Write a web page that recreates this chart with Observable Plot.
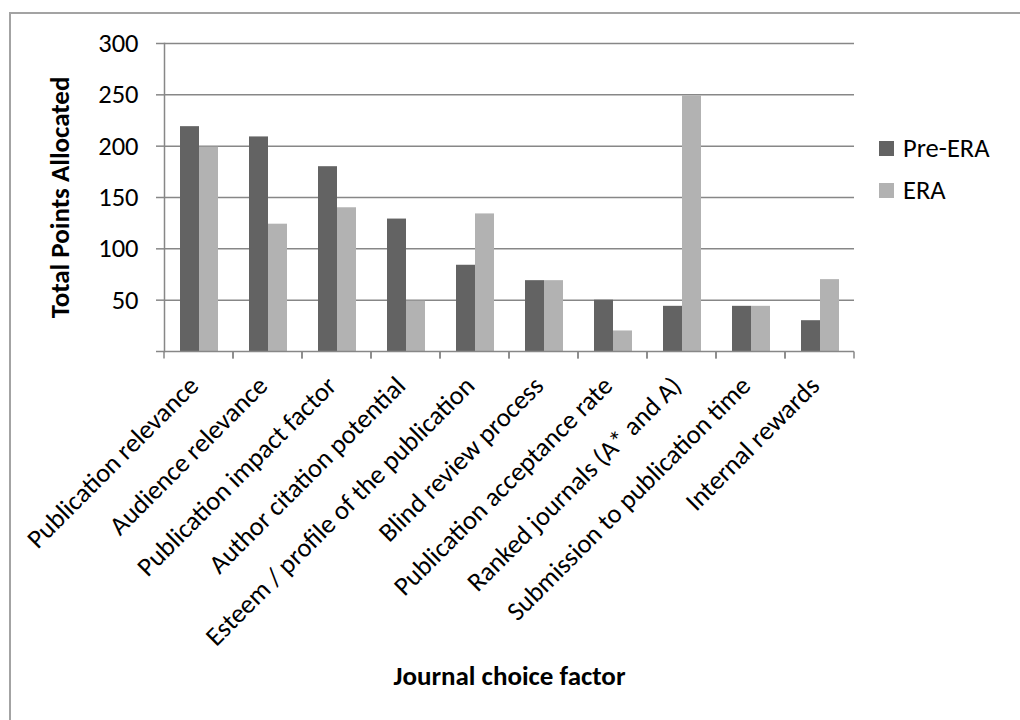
<!DOCTYPE html>
<html>
<head>
<meta charset="utf-8">
<script src="https://cdn.jsdelivr.net/npm/d3@7"></script>
<script src="https://cdn.jsdelivr.net/npm/@observablehq/plot@0.6"></script>
<style>
  html, body { margin: 0; padding: 0; background: #fff; overflow: hidden; }
  #page { position: relative; width: 1020px; height: 720px; font-family: Calibri, Carlito, Lato, sans-serif; }
  #border { position: absolute; left: 9px; top: 12px; width: 1100px; height: 800px; border: 2px solid #a3a3a3; }
  #chart { position: absolute; left: 0; top: 0; }
  #legend { position: absolute; left: 879px; top: 132px; }
  #legend .lg-swatch { margin-bottom: 9px; }
  #legend .lg-swatch svg { margin-right: 9px; }
  g[aria-label="y-axis label"] text, g[aria-label="fx-axis label"] text { font-weight: bold; font-size: 27px; }
</style>
</head>
<body>
<div id="page">
  <div id="border"></div>
  <div id="chart"></div>
  <div id="legend"></div>
</div>
<script>
// Journal choice factors, points allocated before and under ERA
const categories = [
  "Publication relevance",
  "Audience relevance",
  "Publication impact factor",
  "Author citation potential",
  "Esteem / profile of the publication",
  "Blind review process",
  "Publication acceptance rate",
  "Ranked journals (A* and A)",
  "Submission to publication time",
  "Internal rewards"
];
const series = ["Pre-ERA", "ERA"];
const preEra = [219, 209, 180, 129, 84, 69, 50, 44, 44, 30];
const era = [199, 124, 140, 49, 134, 69, 20, 249, 44, 70];
const yTicks = [0, 50, 100, 150, 200, 250, 300];
const seriesColors = ["#636363", "#b2b2b2"];

const rows = categories.flatMap((category, i) => [
  {category, series: series[0], value: preEra[i]},
  {category, series: series[1], value: era[i]}
]);

const gridColor = "#878787";
const fontFamily = "Calibri, Carlito, Lato, sans-serif";

// Baseline of each category band, plus short ticks under it at the band edges
const baselineWithTicks = Plot.ruleY([0], {
  stroke: gridColor,
  strokeWidth: 1.5,
  render(index, scales, values, dimensions, context, next) {
    const g = next(index, scales, values, dimensions, context);
    const {width, height, marginLeft, marginRight, marginBottom} = dimensions;
    const y0 = height - marginBottom;
    for (const x of [marginLeft, width - marginRight]) {
      d3.select(g).append("line")
        .attr("x1", x).attr("x2", x)
        .attr("y1", y0).attr("y2", y0 + 7)
        .attr("stroke", gridColor)
        .attr("stroke-width", 1.5);
    }
    return g;
  }
});

const chart = Plot.plot({
  width: 1020,
  height: 720,
  marginLeft: 162,
  marginRight: 164,
  marginTop: 43,
  marginBottom: 369,
  style: {fontFamily, fontSize: "26.5px", color: "#000", background: "transparent", overflow: "visible"},
  fx: {domain: categories, paddingInner: 0, paddingOuter: 0},
  x: {domain: series, paddingInner: 0, paddingOuter: 0.78, axis: null},
  y: {domain: [0, 300]},
  color: {domain: series, range: seriesColors},
  marks: [
    Plot.gridY(yTicks.filter(d => d > 0), {stroke: gridColor, strokeOpacity: 1, strokeWidth: 1.5}),
    Plot.barY(rows, {fx: "category", x: "series", y: "value", fill: "series"}),
    baselineWithTicks,
    Plot.frame({anchor: "left", facetAnchor: "left", stroke: gridColor, strokeWidth: 1.5}),
    Plot.axisY(yTicks, {
      tickSize: 8,
      tickPadding: 18,
      stroke: gridColor,
      strokeWidth: 1.5,
      tickFormat: d => (d === 0 ? "" : d),
      label: "Total Points Allocated",
      labelAnchor: "center",
      labelOffset: 115,
      labelArrow: "none"
    }),
    Plot.axisFx({
      anchor: "bottom",
      tickRotate: -45,
      tickSize: 0,
      tickPadding: 30,
      dx: -5,
      label: "Journal choice factor",
      labelAnchor: "center",
      labelOffset: 333,
      labelArrow: "none"
    })
  ]
});
document.getElementById("chart").appendChild(chart);

const legend = Plot.legend({
  color: {domain: series, range: seriesColors},
  columns: 1,
  swatchSize: 15,
  className: "lg",
  style: {fontFamily, fontSize: "26.5px", color: "#000"}
});
document.getElementById("legend").appendChild(legend);
</script>
</body>
</html>
